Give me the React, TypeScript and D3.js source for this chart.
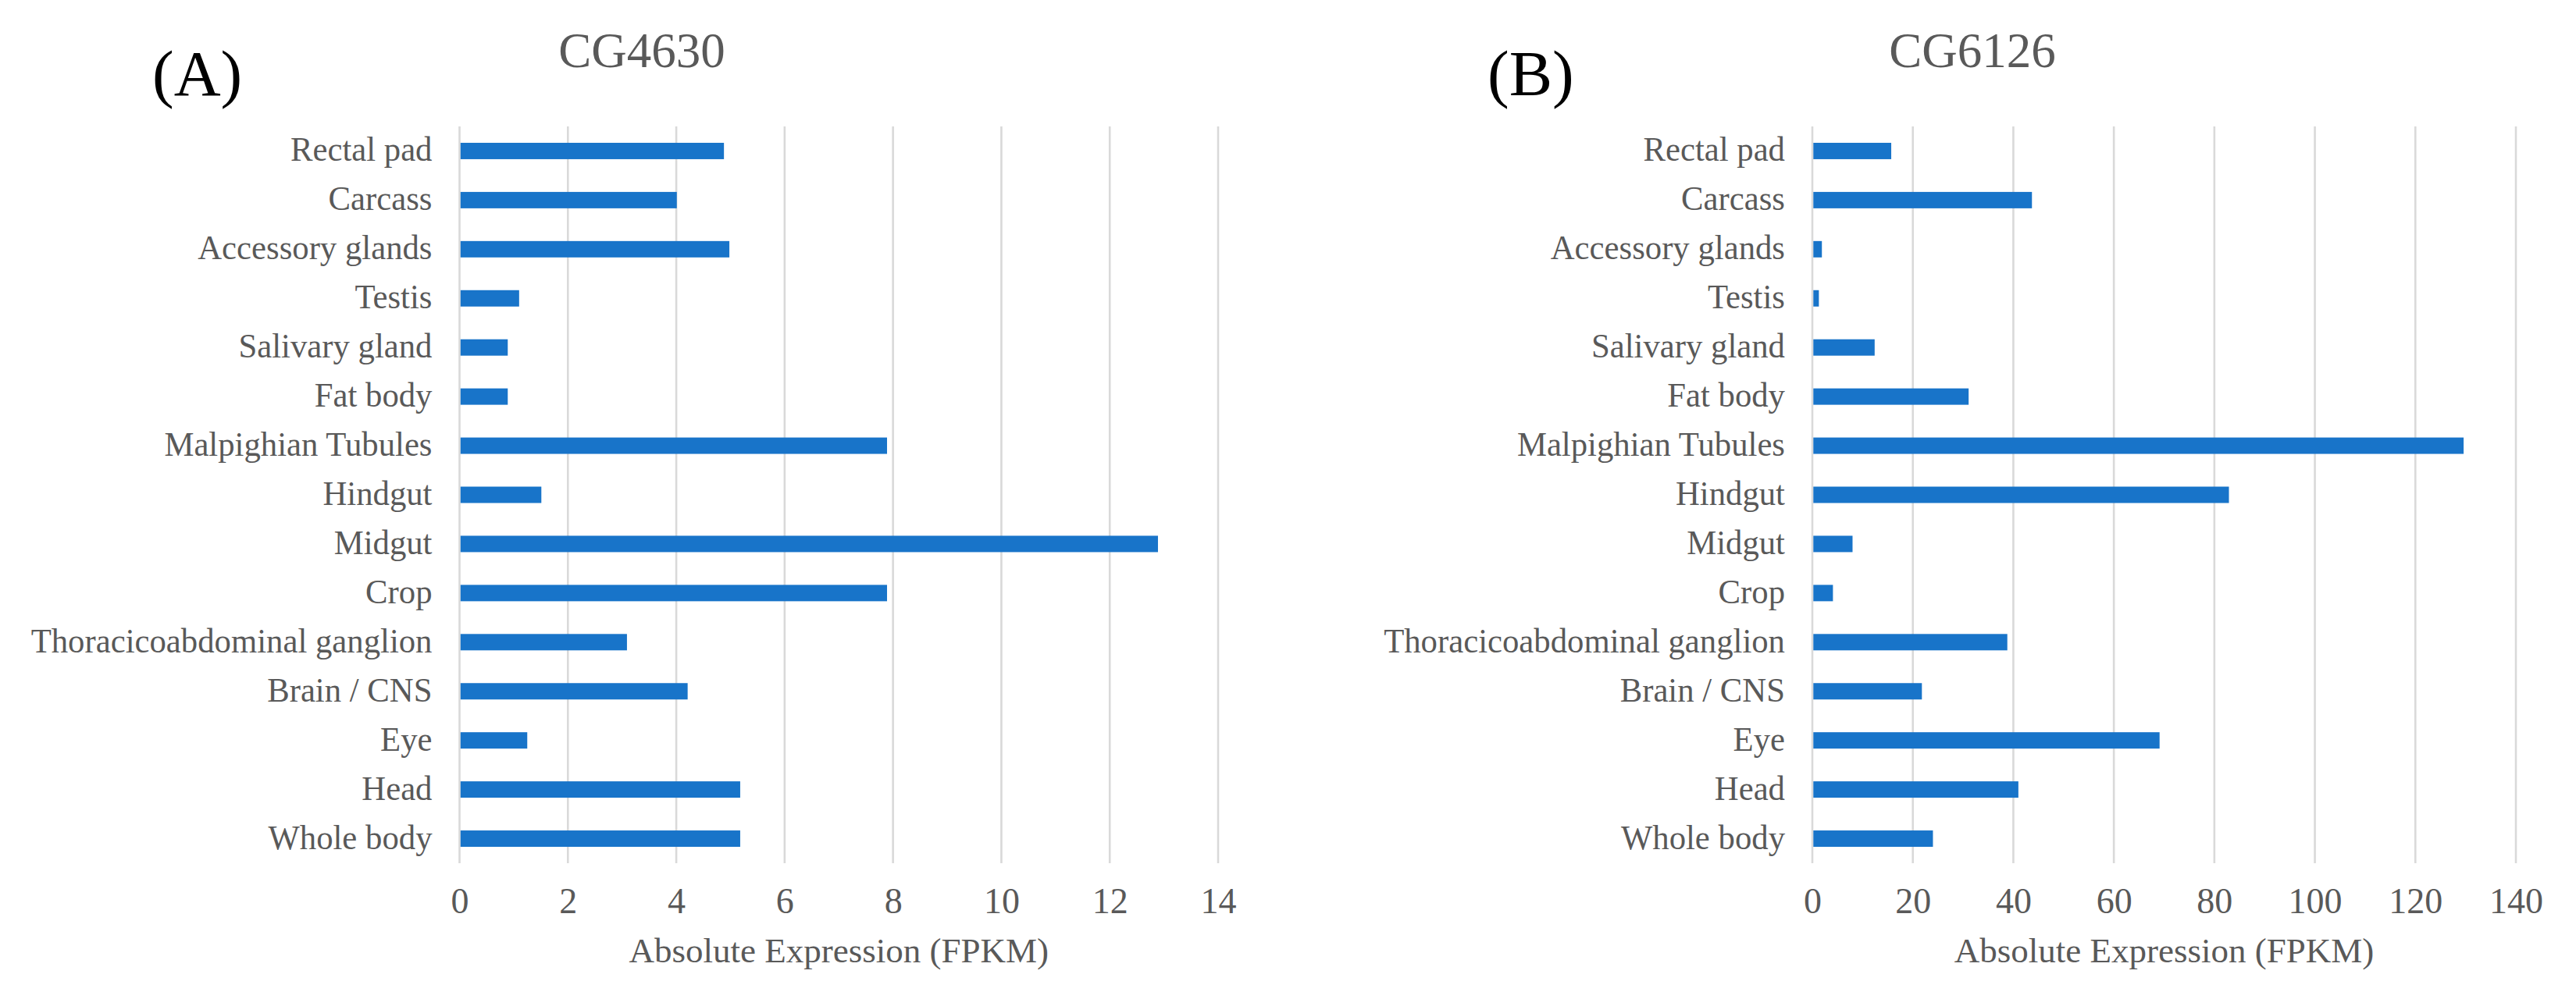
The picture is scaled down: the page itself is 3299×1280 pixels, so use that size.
import { useRef, useEffect } from "react";
import * as d3 from "d3";

// tissues, top to bottom as they appear in the figure
const tissues = [
  "Rectal pad",
  "Carcass",
  "Accessory glands",
  "Testis",
  "Salivary gland",
  "Fat body",
  "Malpighian Tubules",
  "Hindgut",
  "Midgut",
  "Crop",
  "Thoracicoabdominal ganglion",
  "Brain / CNS",
  "Eye",
  "Head",
  "Whole body",
];

const cg4630 = [4.88, 4.01, 4.98, 1.1, 0.89, 0.89, 7.89, 1.51, 12.89, 7.89, 3.09, 4.21, 1.25, 5.18, 5.18];
const cg6126 = [15.7, 43.7, 1.9, 1.3, 12.4, 31.1, 129.6, 82.9, 8.0, 4.1, 38.8, 21.8, 69.1, 41.0, 24.0];

const ticksA = [0, 2, 4, 6, 8, 10, 12, 14];
const ticksB = [0, 20, 40, 60, 80, 100, 120, 140];

const W = 3299;
const H = 1280;
const FONT = "'Liberation Serif', 'Times New Roman', serif";
const GRAY = "#595959";
const BAR = "#1874c9";

interface Panel {
  letter: string;
  title: string;
  values: number[];
  ticks: number[];
  x0: number;
  x1: number;
  titleX: number;
  letterX: number;
}

const panels: Panel[] = [
  { letter: "(A)", title: "CG4630", values: cg4630, ticks: ticksA, x0: 588.5, x1: 1560, titleX: 822, letterX: 195 },
  { letter: "(B)", title: "CG6126", values: cg6126, ticks: ticksB, x0: 2321, x1: 3222, titleX: 2526, letterX: 1905 },
];

const plotTop = 162;
const plotBottom = 1106;

export default function App() {
  const svgRef = useRef<SVGSVGElement>(null);

  useEffect(() => {
    if (!svgRef.current) return;
    const svg = d3.select(svgRef.current);
    svg.selectAll("*").remove();

    svg.append("rect").attr("width", W).attr("height", H).attr("fill", "#fff");

    const y = d3
      .scaleBand<string>()
      .domain(tissues)
      .range([plotTop, plotBottom])
      .paddingInner(2 / 3)
      .paddingOuter(1 / 3);

    panels.forEach((p) => {
      const x = d3
        .scaleLinear()
        .domain([0, p.ticks[p.ticks.length - 1]])
        .range([p.x0, p.x1]);

      const g = svg.append("g");

      // gridlines
      g.selectAll("line.grid")
        .data(p.ticks)
        .join("line")
        .attr("class", "grid")
        .attr("x1", (d) => x(d))
        .attr("x2", (d) => x(d))
        .attr("y1", plotTop)
        .attr("y2", plotBottom)
        .attr("stroke", "#d9d9d9")
        .attr("stroke-width", 2.6);

      // bars
      g.selectAll("rect.bar")
        .data(p.values)
        .join("rect")
        .attr("class", "bar")
        .attr("x", x(0) + 1.3)
        .attr("y", (_, i) => y(tissues[i])!)
        .attr("width", (d) => Math.max(0, x(d) - x(0) - 1.3))
        .attr("height", y.bandwidth())
        .attr("fill", BAR);

      // category labels
      g.selectAll("text.cat")
        .data(tissues)
        .join("text")
        .attr("class", "cat")
        .attr(
          "transform",
          (d) => `translate(${p.x0 - 35},${y(d)! + y.bandwidth() / 2 + 13}) scale(0.95,1)`
        )
        .attr("text-anchor", "end")
        .attr("font-family", FONT)
        .attr("font-size", 45)
        .attr("fill", GRAY)
        .text((d) => d);

      // x axis tick labels
      g.append("g")
        .attr("transform", `translate(0,${plotBottom})`)
        .call(d3.axisBottom(x).tickValues(p.ticks).tickSize(0).tickPadding(31))
        .call((axis) => {
          axis.select(".domain").remove();
          axis
            .selectAll(".tick text")
            .attr("fill", GRAY)
            .attr("font-family", FONT)
            .attr("font-size", 46);
        });

      // axis title
      g.append("text")
        .attr("x", (p.x0 + p.x1) / 2)
        .attr("y", 1233)
        .attr("text-anchor", "middle")
        .attr("font-family", FONT)
        .attr("font-size", 45)
        .attr("fill", GRAY)
        .text("Absolute Expression (FPKM)");

      // chart title
      g.append("text")
        .attr("x", p.titleX)
        .attr("y", 86)
        .attr("text-anchor", "middle")
        .attr("font-family", FONT)
        .attr("font-size", 63)
        .attr("fill", GRAY)
        .text(p.title);

      // panel letter
      g.append("text")
        .attr("x", p.letterX)
        .attr("y", 122)
        .attr("font-family", FONT)
        .attr("font-size", 83)
        .attr("fill", "#000")
        .text(p.letter);
    });
  }, []);

  return (
    <div style={{ position: "absolute", left: 0, top: 0 }}>
      <svg
        ref={svgRef}
        width={W}
        height={H}
        style={{ display: "block" }}
        role="img"
        aria-label="Absolute expression (FPKM) of CG4630 and CG6126 across Drosophila tissues"
      />
    </div>
  );
}
